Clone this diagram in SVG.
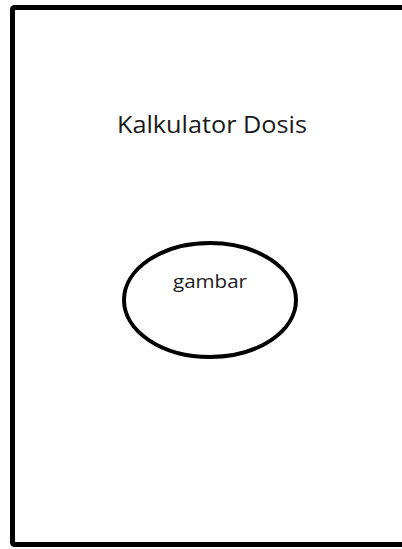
<svg xmlns="http://www.w3.org/2000/svg" width="402" height="549" viewBox="0 0 402 549">
<style>
.t{font-family:"Open Sans","Liberation Sans",sans-serif;fill:#1a1a1a;text-anchor:middle}
.s{fill:#fff;stroke:#000}
</style>
<rect width="402" height="549" fill="#fff"/>
<g id="frame">
<rect class="s" x="12.5" y="7.5" width="400" height="537" rx="2" stroke-width="5"/>
</g>
<g id="title">
<text class="t" x="212" y="133" font-size="24" textLength="190" lengthAdjust="spacingAndGlyphs">Kalkulator Dosis</text>
</g>
<g id="gambar">
<ellipse class="s" cx="210" cy="300" rx="86" ry="57" stroke-width="4"/>
<text class="t" x="210" y="288" font-size="19" textLength="74" lengthAdjust="spacingAndGlyphs">gambar</text>
</g>
<g id="connectors"/>
</svg>
